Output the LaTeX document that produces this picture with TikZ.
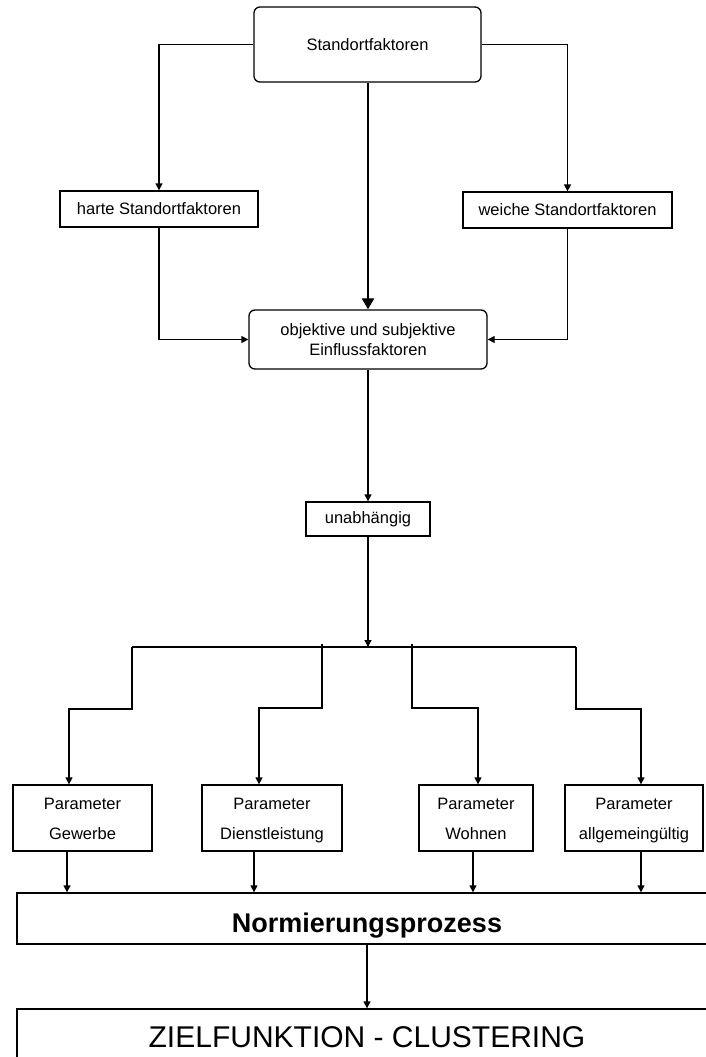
\documentclass[tikz,border=0pt]{standalone}
\usepackage{fontspec}
\setmainfont{Liberation Sans}
\usetikzlibrary{arrows.meta}
\begin{document}
\begin{tikzpicture}[x=1pt,y=-1pt,
  box/.style={draw, line width=1.3pt, inner sep=0pt, align=center, font=\fontsize{16.5}{20}\selectfont},
  rbox/.style={box, rounded corners=6pt},
  pbox/.style={box, minimum height=66pt, font=\fontsize{16.5}{30}\selectfont},
  wide/.style={draw, line width=1.3pt, inner sep=0pt, minimum width=700pt},
  conn/.style={line width=1.3pt},
  arr/.style={conn, -{Triangle[length=7pt,width=7pt]}},
  bigarr/.style={line width=2.4pt, -{Triangle[length=11pt,width=12pt]}},
]
\useasboundingbox (0,0) rectangle (706,1057);
\clip (0,0) rectangle (706,1057);

\node[rbox, minimum width=227pt, minimum height=75pt] (top) at (367.5,44.5) {Standortfaktoren};
\node[box, minimum width=198pt, minimum height=36pt] (harte) at (159,209) {harte Standortfaktoren};
\node[box, minimum width=209pt, minimum height=36pt] (weiche) at (567.5,210) {weiche Standortfaktoren};
\node[rbox, minimum width=238pt, minimum height=59pt] (obj) at (368,339.5) {objektive und subjektive\\Einflussfaktoren};
\node[box, minimum width=124pt, minimum height=34pt] (unab) at (368,519) {unabhängig};

\node[pbox, minimum width=139pt] (gew) at (82.5,818) {\strut Parameter\\\strut Gewerbe};
\node[pbox, minimum width=140pt] (dien) at (272,818) {\strut Parameter\\\strut Dienstleistung};
\node[pbox, minimum width=114pt] (wohn) at (476,818) {\strut Parameter\\\strut Wohnen};
\node[pbox, minimum width=138pt] (allg) at (634,818) {\strut Parameter\\\strut allgemeingültig};

\node[wide, minimum height=51pt, text height=27pt, text depth=0pt, font=\fontsize{27}{30}\selectfont\bfseries] (norm) at (367,918.5) {Normierungsprozess};
\node[wide, minimum height=72pt, text height=20pt, text depth=16pt, font=\fontsize{30}{34}\selectfont] (ziel) at (367,1045) {ZIELFUNKTION - CLUSTERING};

% top level
\draw[arr] (top.west) -| (harte.north);
\draw[arr] (top.east) -| (weiche.north);
\draw[bigarr] (obj.north |- top.south) -- (obj.north);
\draw[arr] (harte.south) |- (obj.west);
\draw[arr] (weiche.south) |- (obj.east);
\draw[arr] (obj.south) -- (unab.north);

% distribution
\coordinate (j) at (368,647);
\coordinate (hl) at (132,647);
\coordinate (hr) at (576,647);
\draw[arr] (unab.south) -- (j);
\draw[conn] (hl) -- (hr);
\coordinate (b2) at (322,644);
\coordinate (b3) at (412,644);
\draw[arr] (hl) -- (132,709) -| ([xshift=-13.5pt]gew.north);
\draw[arr] (b2) -- (322,708) -| ([xshift=-13pt]dien.north);
\draw[arr] (b3) -- (412,708) -| ([xshift=2pt]wohn.north);
\draw[arr] (hr) -- (576,709) -| ([xshift=7pt]allg.north);

% to Normierung
\coordinate (g1) at ([xshift=-15.5pt]gew.south);
\coordinate (g2) at ([xshift=-18pt]dien.south);
\coordinate (g3) at ([xshift=-3pt]wohn.south);
\coordinate (g4) at ([xshift=7pt]allg.south);
\draw[arr] (g1) -- (g1 |- norm.north);
\draw[arr] (g2) -- (g2 |- norm.north);
\draw[arr] (g3) -- (g3 |- norm.north);
\draw[arr] (g4) -- (g4 |- norm.north);

\draw[arr] (norm.south) -- (ziel.north);
\end{tikzpicture}
\end{document}
